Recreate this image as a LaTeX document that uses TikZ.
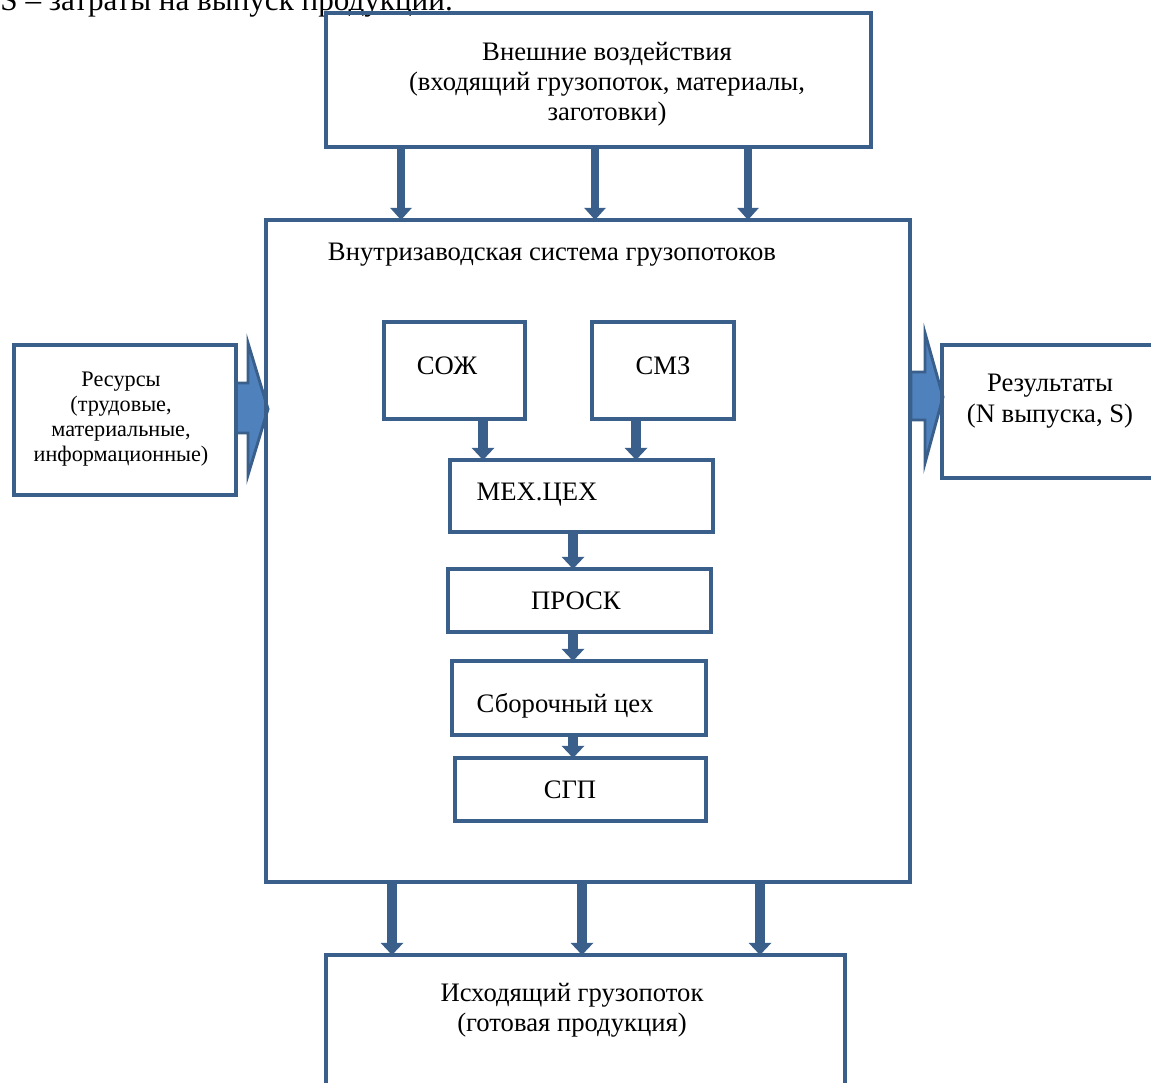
\documentclass[tikz,border=0pt]{standalone}
\usepackage{fontspec}
\setmainfont{Liberation Serif}
\usetikzlibrary{arrows.meta,calc,backgrounds}
\definecolor{bord}{HTML}{3A5F8B}
\definecolor{afill}{HTML}{4F81BD}
\begin{document}
\begin{tikzpicture}[x=0.45pt,y=-0.45pt,
  box/.style={draw=bord,line width=2pt,inner sep=0pt,outer sep=0pt},
  txt/.style={font=\fontsize{12}{13.5}\selectfont,align=center,inner sep=0pt},
  one/.style={txt,text height=8pt,text depth=0pt},
  flow/.style={draw=bord,line width=3.8pt,-{Triangle[width=9.5pt,length=5.5pt]}},
  iflow/.style={draw=bord,line width=4.4pt,-{Triangle[width=10pt,length=5.5pt]}},
  bflow/.style={draw=bord,line width=4.6pt,-{Triangle[width=10pt,length=5.5pt]}},
  barrow/.style={draw=bord,fill=afill,line width=1.3pt,line join=miter}]
\useasboundingbox (0,0) rectangle (1151,1082);
\clip (0,0) rectangle (1151,1082);

% header line (cut off at the top)
\node[anchor=base west,inner sep=0pt,font=\fontsize{14}{16}\selectfont] (hdr) at (0,10) {S – затраты на выпуск продукции.};

% boxes
\node[box,minimum width=545*0.45pt,minimum height=134*0.45pt] (top) at (598.5,80) {};
\node[box,minimum width=644*0.45pt,minimum height=662*0.45pt] (main) at (588,551) {};
\node[box,minimum width=141*0.45pt,minimum height=97*0.45pt] (soz) at (454.5,370.5) {};
\node[box,minimum width=142*0.45pt,minimum height=97*0.45pt] (smz) at (663,370.5) {};
\node[box,minimum width=263*0.45pt,minimum height=72*0.45pt] (mex) at (581.5,496) {};
\node[box,minimum width=263*0.45pt,minimum height=63*0.45pt] (prosk) at (579.5,600.5) {};
\node[box,minimum width=254*0.45pt,minimum height=74*0.45pt] (sbor) at (579,698) {};
\node[box,minimum width=251*0.45pt,minimum height=63*0.45pt] (sgp) at (580.5,789.5) {};
\node[box,minimum width=519*0.45pt,minimum height=145*0.45pt] (out) at (585.5,1027.5) {};
\node[box,minimum width=222*0.45pt,minimum height=150*0.45pt] (res) at (125,420) {};
\node[box,minimum width=228*0.45pt,minimum height=133*0.45pt] (rez) at (1056,411.5) {};

% texts
\node[txt] (toptxt) at (607,84) {Внешние воздействия\\(входящий грузопоток, материалы,\\заготовки)};
\node[one] (maintxt) at (552,252) {Внутризаводская система грузопотоков};
\node[one] (soztxt) at (447,366) {СОЖ};
\node[one] (smztxt) at (663,366) {СМЗ};
\node[one] (mextxt) at (537,492) {МЕХ.ЦЕХ};
\node[one] (prosktxt) at (576,601) {ПРОСК};
\node[one] (sbortxt) at (565,704) {Сборочный цех};
\node[one] (sgptxt) at (570,790) {СГП};
\node[txt] (outtxt) at (572,1010) {Исходящий грузопоток\\(готовая продукция)};
\node[txt,font=\fontsize{10}{11.25}\selectfont] (restxt) at (121,419.5) {Ресурсы\\(трудовые,\\материальные,\\информационные)};
\node[txt,font=\fontsize{12}{14}\selectfont] (reztxt) at (1050,401.5) {Результаты\\(N выпуска, S)};

% arrow x positions
\coordinate (t1) at (401,0);
\coordinate (t2) at (595,0);
\coordinate (t3) at (748,0);
\coordinate (c1) at (483,0);
\coordinate (c2) at (636,0);
\coordinate (c3) at (573,0);
\coordinate (b1) at (392,0);
\coordinate (b2) at (582,0);
\coordinate (b3) at (760,0);

% flows
\draw[flow] (t1 |- top.south) -- (t1 |- main.north);
\draw[flow] (t2 |- top.south) -- (t2 |- main.north);
\draw[flow] (t3 |- top.south) -- (t3 |- main.north);
\draw[iflow] (c1 |- soz.south) -- (c1 |- mex.north);
\draw[iflow] (c2 |- smz.south) -- (c2 |- mex.north);
\draw[iflow] (c3 |- mex.south) -- (c3 |- prosk.north);
\draw[iflow] (c3 |- prosk.south) -- (c3 |- sbor.north);
\draw[iflow] (c3 |- sbor.south) -- (c3 |- sgp.north);
\draw[bflow] (b1 |- main.south) -- (b1 |- out.north);
\draw[bflow] (b2 |- main.south) -- (b2 |- out.north);
\draw[bflow] (b3 |- main.south) -- (b3 |- out.north);

% block arrows
\begin{scope}[on background layer]
\draw[barrow,shift={(res.east)}] (0,-37) -- (12,-37) -- (12,-77) -- (32,-11) -- (12,55) -- (12,13) -- (0,13) -- cycle;
\draw[barrow,shift={(rez.west)}] (-31,-39.5) -- (-17,-39.5) -- (-17,-78.5) -- (1,-14.5) -- (-17,51.5) -- (-17,8.5) -- (-31,8.5) -- cycle;
\end{scope}
\end{tikzpicture}
\end{document}
